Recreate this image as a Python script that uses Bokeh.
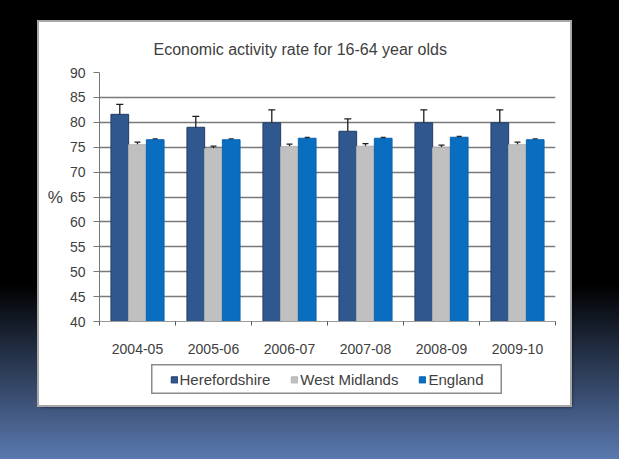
from bokeh.plotting import figure
from bokeh.models import (ColumnDataSource, Whisker, TeeHead, FixedTicker,
                          Range1d, Column, Row, Spacer)
from bokeh.embed import file_html
from bokeh.resources import INLINE

# ---- data -------------------------------------------------------------
categories = ["2004-05", "2005-06", "2006-07", "2007-08", "2008-09", "2009-10"]
series_names = ["Herefordshire", "West Midlands", "England"]
herefordshire = [81.6, 79.0, 79.9, 78.2, 79.9, 79.9]
herefordshire_err = [2.0, 2.2, 2.6, 2.5, 2.6, 2.6]
west_midlands = [75.5, 74.7, 75.1, 75.2, 74.9, 75.5]
west_midlands_err = [0.5, 0.5, 0.5, 0.5, 0.5, 0.5]
england = [76.5, 76.5, 76.8, 76.8, 77.0, 76.5]
england_err = [0.15, 0.15, 0.15, 0.15, 0.15, 0.15]
y_ticks = [40, 45, 50, 55, 60, 65, 70, 75, 80, 85, 90]
title_text = "Economic activity rate for 16-64  year olds"
y_label = "%"

# ---- style -------------------------------------------------------------
FONT = "Liberation Sans"
TEXT = "#404040"
colors = ["#30588f", "#c0c0c0", "#0a6ec0"]
outlines = ["#203c66", "#b4b4b4", "#0a62ad"]
head_sizes = [7, 6, 5]
bar_w = 0.233

n = len(categories)
p = figure(width=531, height=340, output_backend="svg", toolbar_location=None,
           x_range=Range1d(0, n), y_range=Range1d(y_ticks[0], y_ticks[-1]),
           min_border_left=60, min_border_right=15, min_border_top=50,
           min_border_bottom=41, y_axis_label=y_label,
           background_fill_color="white", border_fill_color="white")
p.outline_line_color = None

p.title.text = title_text
p.title.text_font = FONT
p.title.text_font_size = "16px"
p.title.text_font_style = "normal"
p.title.text_color = TEXT
p.title.align = "left"
p.title.offset = 54
p.title.standoff = 30

# axes
p.yaxis.ticker = FixedTicker(ticks=y_ticks)
p.yaxis.major_tick_out = 6
p.yaxis.major_tick_in = 0
p.yaxis.minor_tick_out = 0
p.yaxis.minor_tick_in = 0
p.yaxis.major_label_standoff = 8
p.yaxis.axis_line_color = "#777777"
p.yaxis.major_tick_line_color = "#777777"
p.yaxis.axis_label_orientation = "horizontal"
p.yaxis.axis_label_text_font = FONT
p.yaxis.axis_label_text_font_size = "17px"
p.yaxis.axis_label_text_font_style = "normal"
p.yaxis.axis_label_text_color = TEXT
p.yaxis.axis_label_standoff = 4

centers = [i + 0.5 for i in range(n)]
bounds = [float(i) for i in range(n + 1)]
p.xaxis.ticker = FixedTicker(ticks=centers, minor_ticks=bounds)
p.xaxis.major_label_overrides = {c: lab for c, lab in zip(centers, categories)}
p.xaxis.major_tick_out = 0
p.xaxis.major_tick_in = 0
p.xaxis.minor_tick_out = 4
p.xaxis.minor_tick_in = 0
p.xaxis.major_label_standoff = 18
p.xaxis.axis_line_color = "#9a9a9a"
p.xaxis.minor_tick_line_color = "#555555"

for ax in (p.xaxis, p.yaxis):
    ax.major_label_text_font = FONT
    ax.major_label_text_font_size = "14px"
    ax.major_label_text_color = TEXT

p.xgrid.visible = False
p.ygrid.ticker = FixedTicker(ticks=y_ticks)
p.ygrid.grid_line_color = "#7a7a7a"
p.ygrid.grid_line_width = 1.5

# bars + error bars
values = [herefordshire, west_midlands, england]
errors = [herefordshire_err, west_midlands_err, england_err]
for k, (name, vals, errs) in enumerate(zip(series_names, values, errors)):
    xs = [c + (k - 1) * bar_w for c in centers]
    src = ColumnDataSource(dict(
        x=xs, top=vals,
        upper=[v + e for v, e in zip(vals, errs)],
        lower=[v - e for v, e in zip(vals, errs)]))
    p.vbar(x="x", top="top", bottom=y_ticks[0], width=bar_w, source=src,
           fill_color=colors[k], line_color=outlines[k], line_width=1)
    w = Whisker(base="x", upper="upper", lower="lower", source=src,
                line_color="#1e1e1e", line_width=1.3,
                upper_head=TeeHead(size=head_sizes[k], line_color="#1e1e1e", line_width=1.3),
                lower_head=TeeHead(size=head_sizes[k], line_color="#1e1e1e", line_width=1.3))
    p.add_layout(w)

# legend panel: a small figure whose frame is the legend box
pl = figure(width=351, height=30, output_backend="svg", toolbar_location=None,
            x_axis_location=None, y_axis_location=None,
            x_range=Range1d(0, 1), y_range=Range1d(0, 1), min_border=0,
            background_fill_color="white", border_fill_color="white")
pl.grid.visible = False
pl.outline_line_color = "#8c8c8c"
pl.outline_line_width = 2
nan = float("nan")
for k, name in enumerate(series_names):
    pl.vbar(x=[nan], top=[nan], width=0.1, fill_color=colors[k],
            line_color=outlines[k], legend_label=name)
lg = pl.legend[0]
lg.orientation = "horizontal"
lg.location = "center"
lg.glyph_width = 8
lg.glyph_height = 8
lg.label_standoff = 2
lg.spacing = 20
lg.padding = 3
lg.margin = 0
lg.border_line_color = None
lg.background_fill_alpha = 0
lg.label_text_font = FONT
lg.label_text_font_size = "15px"
lg.label_text_color = TEXT

legend_row = Row(children=[Spacer(width=112, height=30), pl, Spacer(width=68, height=30)])
boxed = Column(children=[p, Spacer(width=531, height=2), legend_row,
                         Spacer(width=531, height=11)],
               styles={"background": "white",
                       "outline": "2px solid #a8a8a8",
                       "box-shadow": "2px 2px 3px rgba(0,0,0,0.6)"})
middle = Row(children=[Spacer(width=39, height=383), boxed, Spacer(width=49, height=383)])
page = Column(children=[Spacer(width=619, height=22), middle, Spacer(width=619, height=54)],
              styles={"background": "linear-gradient(to bottom, #000000 0%, #000000 62%, #5a79b0 100%)"})

open("out.html", "w").write(file_html(page, INLINE))
